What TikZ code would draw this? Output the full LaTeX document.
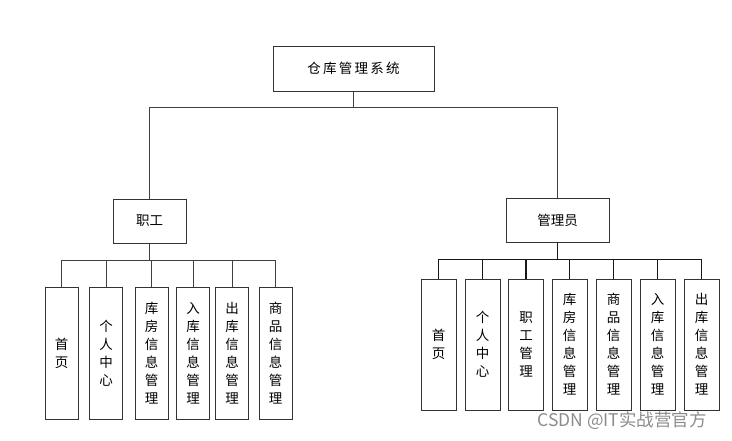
\documentclass[tikz,border=0pt]{standalone}
\usepackage{fontspec}
\newfontfamily\cjk{Noto Sans CJK SC}
\newfontfamily\cjkw{Noto Sans CJK SC}
\begin{document}
\begin{tikzpicture}[x=1pt,y=-1pt,
  box/.style={draw=black!80,line width=1pt,fill=white,inner sep=0pt,align=center,
    font=\cjk\fontsize{13.5}{18}\selectfont},
  leafl/.style={box,minimum width=33pt,minimum height=132pt},
  leafr/.style={box,minimum width=35pt,minimum height=131pt},
  conn/.style={draw=black!75,line width=1pt},
  connr/.style={draw=black!90,line width=1.4pt}]
\useasboundingbox (0,0) rectangle (732,440);
% top
\node[box,minimum width=161pt,minimum height=45pt] (root) at (353.5,68.5) {仓\,库\,管\,理\,系\,统};
\node[box,minimum width=73pt,minimum height=44pt] (zg) at (149.5,221) {职工};
\node[box,minimum width=103pt,minimum height=44pt] (gly) at (557.5,220) {管理员};
% left leaves
\node[leafl] (l1) at (61.5,353) {首\\页};
\node[leafl] (l2) at (106,353) {个\\人\\中\\心};
\node[leafl] (l3) at (151.5,353) {库\\房\\信\\息\\管\\理};
\node[leafl] (l4) at (193,353) {入\\库\\信\\息\\管\\理};
\node[leafl] (l5) at (232,353) {出\\库\\信\\息\\管\\理};
\node[leafl] (l6) at (275.5,353) {商\\品\\信\\息\\管\\理};
% right leaves
\node[leafr] (r1) at (438.5,344.5) {首\\页};
\node[leafr] (r2) at (482.5,344.5) {个\\人\\中\\心};
\node[leafr] (r3) at (526,344.5) {职\\工\\管\\理};
\node[leafr] (r4) at (569.5,344.5) {库\\房\\信\\息\\管\\理};
\node[leafr] (r5) at (613.5,344.5) {商\\品\\信\\息\\管\\理};
\node[leafr] (r6) at (657.5,344.5) {入\\库\\信\\息\\管\\理};
\node[leafr] (r7) at (701.5,344.5) {出\\库\\信\\息\\管\\理};
% connectors
\foreach \c in {zg,gly} \draw[conn] (root.south) -- ++(0,16) -| (\c.north);
\foreach \c in {l1,l2,l3,l4,l5,l6} \draw[conn] (zg.south) -- ++(0,17) -| (\c.north);
\foreach \c in {r1,r2,r3,r4,r5,r6,r7} \draw[connr] (gly.south) -- ++(0,17) -| (\c.north);
% watermark
\node[text=black!45,font=\cjkw\fontsize{17.5}{20}\selectfont,inner sep=0pt] (wm) at (622,421) {CSDN @IT实战营官方};
\end{tikzpicture}
\end{document}
